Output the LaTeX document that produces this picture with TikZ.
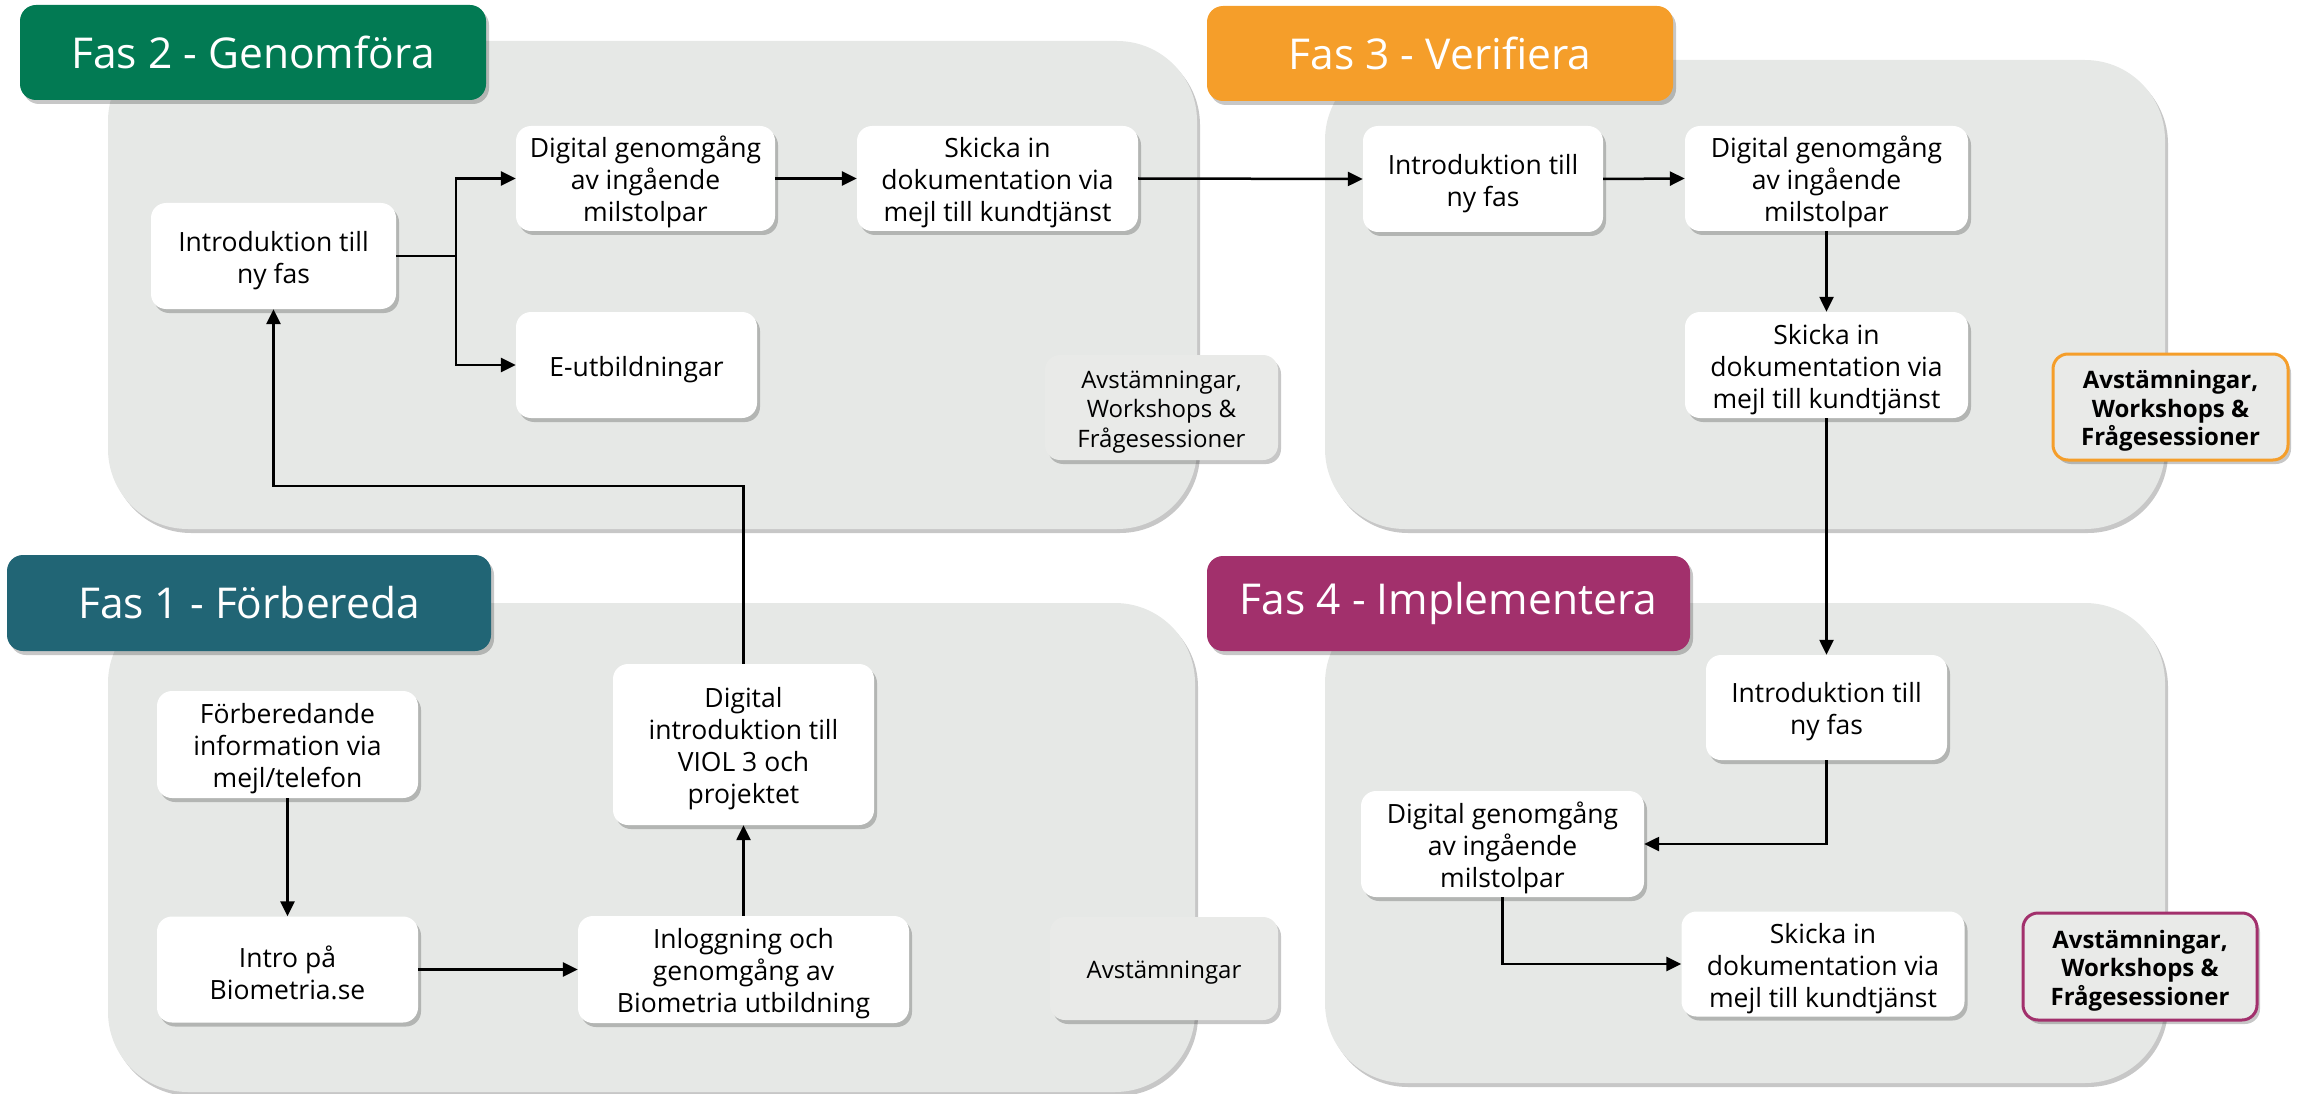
\documentclass[tikz,border=0pt]{standalone}
\usepackage{fontspec}
\setmainfont{Open Sans}
\usetikzlibrary{shadows,arrows.meta}
\definecolor{fasgreen}{RGB}{2,122,83}
\definecolor{fasorange}{RGB}{245,158,42}
\definecolor{fasteal}{RGB}{33,101,117}
\definecolor{faspurple}{RGB}{162,48,108}
\definecolor{panelgray}{RGB}{230,232,230}
\definecolor{avstgray}{RGB}{233,234,232}
\newcommand{\boxstrut}{\rule{0pt}{29pt}}
\newcommand{\avststrut}{\rule{0pt}{26pt}}
\begin{document}
\begin{tikzpicture}[x=1pt,y=-1pt,
  shad/.style={drop shadow={shadow xshift=3pt,shadow yshift=-4pt,opacity=0.22,fill=black}},
  panel/.style={shad,fill=panelgray,rounded corners=80pt,inner sep=0pt},
  header/.style={shad,rounded corners=16pt,text=white,inner sep=0pt,
    font=\fontsize{42.5}{50}\selectfont},
  box/.style={shad,fill=white,rounded corners=15pt,align=center,inner sep=0pt,
    font=\fontsize{26.5}{32}\selectfont},
  avst/.style={shad,fill=avstgray,rounded corners=15pt,align=center,inner sep=0pt,
    font=\fontsize{24}{29.5}\selectfont},
  avstb/.style={avst,line width=3pt,font=\fontsize{24}{28.5}\selectfont\bfseries},
  wire/.style={line width=2.5pt,draw=black},
  arr/.style={wire,-{Triangle[length=15pt,width=14pt]}}
]
\useasboundingbox (0,0) rectangle (2297,1094);

% panels
\node[panel,minimum width=1089pt,minimum height=488pt] (p2) at (652.5,285) {};
\node[panel,minimum width=840pt,minimum height=469pt] (p3) at (1745,294.5) {};
\node[panel,minimum width=1087pt,minimum height=489pt] (p1) at (651.5,847.5) {};
\node[panel,minimum width=840pt,minimum height=480pt] (p4) at (1745,843) {};

% headers
\node[header,fill=fasgreen,minimum width=466pt,minimum height=95pt] (h2) at (253,52.5) {Fas 2 - Genomföra};
\node[header,fill=fasorange,minimum width=466pt,minimum height=95pt] (h3) at (1440,53.5) {Fas 3 - Verifiera};
\node[header,fill=fasteal,minimum width=484pt,minimum height=96pt] (h1) at (249,603) {Fas 1 - Förbereda};
\node[header,fill=faspurple,minimum width=483pt,minimum height=95pt] (h4) at (1448.5,603.5) {Fas 4 - Implementera};

% Fas 2
\node[box,minimum width=245pt,minimum height=106pt] (a2) at (273.5,256) {\boxstrut Introduktion till\\ny fas};
\node[box,minimum width=259pt,minimum height=105pt] (b2) at (645.5,178.5) {\boxstrut Digital genomgång\\av ingående\\milstolpar};
\node[box,minimum width=281pt,minimum height=105pt] (c2) at (997.5,178.5) {\boxstrut Skicka in\\dokumentation via\\mejl till kundtjänst};
\node[box,minimum width=241pt,minimum height=106pt] (e2) at (636.5,365) {\boxstrut E-utbildningar};
\node[avst,minimum width=233pt,minimum height=105pt] (f2) at (1161.5,407.5) {\avststrut Avstämningar,\\Workshops \&\\Frågesessioner};

% Fas 3
\node[box,minimum width=240pt,minimum height=106pt] (a3) at (1483,179) {\boxstrut Introduktion till\\ny fas};
\node[box,minimum width=283pt,minimum height=105pt] (b3) at (1826.5,178.5) {\boxstrut Digital genomgång\\av ingående\\milstolpar};
\node[box,minimum width=283pt,minimum height=106pt] (c3) at (1826.5,365) {\boxstrut Skicka in\\dokumentation via\\mejl till kundtjänst};
\node[avstb,draw=fasorange,minimum width=235pt,minimum height=106pt] (d3) at (2170.5,407) {\avststrut Avstämningar,\\Workshops \&\\Frågesessioner};

% Fas 4
\node[box,minimum width=241pt,minimum height=105pt] (a4) at (1826.5,707.5) {\boxstrut Introduktion till\\ny fas};
\node[box,minimum width=283pt,minimum height=106pt] (b4) at (1502.5,844) {\boxstrut Digital genomgång\\av ingående\\milstolpar};
\node[box,minimum width=283pt,minimum height=105pt] (c4) at (1823,964) {\boxstrut Skicka in\\dokumentation via\\mejl till kundtjänst};
\node[avstb,draw=faspurple,minimum width=234pt,minimum height=107pt] (d4) at (2140,966.5) {\avststrut Avstämningar,\\Workshops \&\\Frågesessioner};

% Fas 1
\node[box,minimum width=261pt,minimum height=107pt] (a1) at (287.5,744.5) {\boxstrut Förberedande\\information via\\mejl/telefon};
\node[box,minimum width=261pt,minimum height=106pt] (b1) at (287.5,969.5) {\boxstrut Intro på\\Biometria.se};
\node[box,minimum width=331pt,minimum height=107pt] (c1) at (743.5,969.5) {\boxstrut Inloggning och\\genomgång av\\Biometria utbildning};
\node[box,minimum width=261pt,minimum height=161pt] (d1) at (743.5,744.5) {\boxstrut Digital\\introduktion till\\VIOL 3 och\\projektet};
\node[avst,minimum width=228pt,minimum height=103pt] (e1) at (1164,968.5) {\avststrut Avstämningar};

% connectors
\coordinate (j2) at (456,256);
\coordinate (k1) at (743.5,486);
\draw[wire] (a2.east) -- (j2);
\draw[arr] (j2) |- (b2.west);
\draw[arr] (j2) |- (e2.west);
\draw[arr] (b2.east) -- (c2.west);
\draw[arr] (c2.east) -- (a3.west);
\draw[arr] (a3.east) -- (b3.west);
\draw[arr] (b3.south) -- (c3.north);
\draw[arr] (c3.south) -- (a4.north);
\draw[arr] (a4.south) |- (b4.east);
\draw[arr] (b4.south) |- (c4.west);
\draw[arr] (a1.south) -- (b1.north);
\draw[arr] (b1.east) -- (c1.west);
\draw[arr] (c1.north) -- (d1.south);
\draw[arr] (d1.north) -- (k1) -| (a2.south);
\end{tikzpicture}
\end{document}
